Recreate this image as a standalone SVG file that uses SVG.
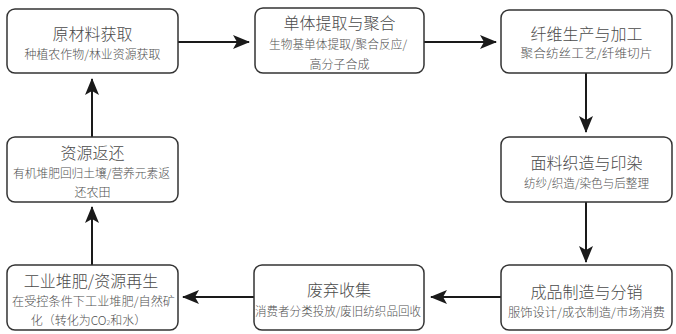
<svg xmlns="http://www.w3.org/2000/svg" width="676" height="334" viewBox="0 0 676 334">
<style>
.box{fill:#fff;stroke:#333;stroke-width:1.5}
.t{font-family:"Noto Sans CJK SC","Noto Sans",sans-serif;font-size:16px;font-weight:300;fill:#4a4a4a;text-anchor:middle;dominant-baseline:central}
.s{font-family:"Noto Sans CJK SC","Noto Sans",sans-serif;font-size:12px;font-weight:300;fill:#505050;text-anchor:middle;dominant-baseline:central}
.c{stroke:#1a1a1a;stroke-width:2;fill:none;marker-end:url(#ah)}
</style>
<defs>
<marker id="ah" markerUnits="userSpaceOnUse" markerWidth="18" markerHeight="14" refX="16" refY="7" orient="auto" viewBox="0 0 18 14">
<path d="M0,0 L17,7 L0,14 L4,7 Z" fill="#1a1a1a"/>
</marker>
</defs>
<rect width="676" height="334" fill="#fff"/>
<g id="connectors">
<line class="c" x1="178" y1="42" x2="249" y2="42"/>
<line class="c" x1="424" y1="42" x2="496" y2="42"/>
<line class="c" x1="586" y1="73" x2="586" y2="132"/>
<line class="c" x1="586" y1="202" x2="586" y2="262"/>
<line class="c" x1="501" y1="297" x2="431" y2="297"/>
<line class="c" x1="254" y1="297" x2="183" y2="297"/>
<line class="c" x1="92" y1="265" x2="92" y2="207"/>
<line class="c" x1="92" y1="137" x2="92" y2="79"/>
</g>
<g id="n1">
<rect class="box" x="7" y="9" width="171" height="64" rx="8"/>
<text class="t" x="92.5" y="33">原材料获取</text>
<text class="s" x="92.5" y="53" textLength="136" lengthAdjust="spacingAndGlyphs">种植农作物/林业资源获取</text>
</g>
<g id="n2">
<rect class="box" x="255" y="8" width="169" height="65" rx="8"/>
<text class="t" x="339.5" y="22">单体提取与聚合</text>
<text class="s" x="338" y="43" textLength="138" lengthAdjust="spacingAndGlyphs">生物基单体提取/聚合反应/</text>
<text class="s" x="339.5" y="63">高分子合成</text>
</g>
<g id="n3">
<rect class="box" x="501" y="10" width="171" height="63" rx="8"/>
<text class="t" x="586.5" y="33">纤维生产与加工</text>
<text class="s" x="586.5" y="52" textLength="132" lengthAdjust="spacingAndGlyphs">聚合纺丝工艺/纤维切片</text>
</g>
<g id="n4">
<rect class="box" x="7" y="137" width="171" height="65" rx="8"/>
<text class="t" x="92.5" y="152">资源返还</text>
<text class="s" x="91.5" y="172" textLength="157" lengthAdjust="spacingAndGlyphs">有机堆肥回归土壤/营养元素返</text>
<text class="s" x="92.5" y="191">还农田</text>
</g>
<g id="n5">
<rect class="box" x="501" y="137" width="171" height="65" rx="8"/>
<text class="t" x="586.5" y="162">面料织造与印染</text>
<text class="s" x="586.5" y="182" textLength="125" lengthAdjust="spacingAndGlyphs">纺纱/织造/染色与后整理</text>
</g>
<g id="n6">
<rect class="box" x="7" y="265" width="171" height="65" rx="8"/>
<text class="t" x="91" y="280">工业堆肥/资源再生</text>
<text class="s" x="93.5" y="300" textLength="163" lengthAdjust="spacingAndGlyphs">在受控条件下工业堆肥/自然矿</text>
<text class="s" x="88.5" y="319">化（转化为CO<tspan font-size="7" dy="3">2</tspan><tspan dy="-3">和水）</tspan></text>
</g>
<g id="n7">
<rect class="box" x="254" y="265" width="170" height="65" rx="8"/>
<text class="t" x="339" y="289">废弃收集</text>
<text class="s" x="338" y="310" textLength="166" lengthAdjust="spacingAndGlyphs">消费者分类投放/废旧纺织品回收</text>
</g>
<g id="n8">
<rect class="box" x="501" y="265" width="171" height="65" rx="8"/>
<text class="t" x="586.5" y="291">成品制造与分销</text>
<text class="s" x="586.5" y="311" textLength="157" lengthAdjust="spacingAndGlyphs">服饰设计/成衣制造/市场消费</text>
</g>
</svg>
